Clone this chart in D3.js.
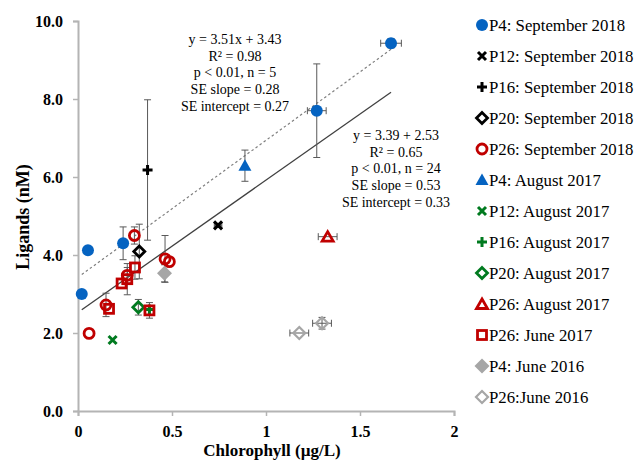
<!DOCTYPE html>
<html><head><meta charset="utf-8">
<script src="https://cdn.jsdelivr.net/npm/d3@7"></script>
<style>body{margin:0;background:#fff}svg{display:block}text{font-family:"Liberation Serif","Times New Roman",serif}</style>
</head><body><svg id="c" width="635" height="463"></svg>
<script>
// ---- data ----
const seriesNames = ["P4: September 2018","P12: September 2018","P16: September 2018","P20: September 2018","P26: September 2018","P4: August 2017","P12: August 2017","P16: August 2017","P20: August 2017","P26: August 2017","P26: June 2017","P4: June 2016","P26:June 2016"];
const seriesColors = ["#0563C1","#000000","#000000","#000000","#C00000","#0563C1","#007A1F","#007A1F","#007A1F","#C00000","#C00000","#A6A6A6","#A6A6A6"];
const seriesShapes = ["circle","x","plus","diamondOpen","circleOpen","triangle","x","plus","diamondOpen","triangleOpen","squareOpen","diamond","diamondOpenSmall"];
// each point: [x, y, xErr, yErr]
const p4Sep2018  = [[0.02,3.00,0,0],[0.053,4.12,0,0],[0.24,4.30,0,0.42],[1.27,7.70,0.05,1.2],[1.665,9.43,0.055,0.12]];
const p12Sep2018 = [[0.745,4.76,0.02,0.05]];
const p16Sep2018 = [[0.37,6.18,0,1.8]];
const p20Sep2018 = [[0.326,4.09,0,0.7]];
const p26Sep2018 = [[0.059,1.99,0,0],[0.30,4.50,0,0.22],[0.149,2.72,0,0.3],[0.262,3.48,0,0.2],[0.463,3.90,0,0.6],[0.486,3.83,0,0]];
const p4Aug2017  = [[0.888,6.29,0,0.4]];
const p12Aug2017 = [[0.184,1.82,0,0]];
const p16Aug2017 = [[0.38,2.60,0,0]];
const p20Aug2017 = [[0.321,2.66,0,0.2]];
const p26Aug2017 = [[1.328,4.47,0.05,0]];
const p26Jun2017 = [[0.165,2.62,0,0],[0.232,3.27,0,0],[0.262,3.38,0,0.4],[0.303,3.68,0,0.3],[0.38,2.58,0,0.2]];
const p4Jun2016  = [[0.46,3.53,0,0.22]];
const p26Jun2016 = [[1.177,2.00,0.05,0],[1.298,2.25,0.05,0.15]];
const allSeries = [p4Sep2018,p12Sep2018,p16Sep2018,p20Sep2018,p26Sep2018,p4Aug2017,p12Aug2017,p16Aug2017,p20Aug2017,p26Aug2017,p26Jun2017,p4Jun2016,p26Jun2016];
const xTicks = [0,0.5,1,1.5,2];
const xTickLabels = ["0","0.5","1","1.5","2"];
const yTicks = [0,2,4,6,8,10];
const fitSlopes = [3.51,3.39];
const fitIntercepts = [3.43,2.53];
const fitRange = [0.02,1.665];
const fitText1 = ["y = 3.51x + 3.43","R² = 0.98","p < 0.01, n = 5","SE slope = 0.28","SE intercept = 0.27"];
const fitText2 = ["y = 3.39 + 2.53","R² = 0.65","p < 0.01, n = 24","SE slope = 0.53","SE intercept = 0.33"];

// ---- drawing ----
const svg = d3.select("#c");
const x = d3.scaleLinear().domain([0,2]).range([78,454]);
const y = d3.scaleLinear().domain([0,10]).range([411,21]);
const axisCol = "#B4B4B4";

const yAxis = svg.append("g").attr("transform","translate(78,0)")
  .call(d3.axisLeft(y).tickValues(yTicks).tickFormat(d3.format(".1f")).tickSize(5).tickPadding(10));
const xAxis = svg.append("g").attr("transform","translate(0,411)")
  .call(d3.axisBottom(x).tickValues(xTicks).tickFormat((d,i)=>xTickLabels[i]).tickSize(5).tickPadding(10));
[yAxis,xAxis].forEach(a=>{
  a.select(".domain").attr("stroke",axisCol).attr("stroke-width",2);
  a.selectAll(".tick line").attr("stroke",axisCol).attr("stroke-width",1.5);
  a.selectAll(".tick text").attr("font-family","Liberation Serif").attr("font-weight","bold").attr("font-size",16).attr("fill","#000");
});

svg.append("text").attr("x",272).attr("y",456).attr("text-anchor","middle").attr("font-weight","bold").attr("font-size",17).text("Chlorophyll (µg/L)");
svg.append("text").attr("transform","translate(29,217) rotate(-90)").attr("text-anchor","middle").attr("font-weight","bold").attr("font-size",18).text("Ligands (nM)");

// regression lines
const fitStyles = [{c:"#7F7F7F",w:1.2,d:"2.5,2.5"},{c:"#404040",w:1.3,d:null}];
fitSlopes.forEach((s,i)=>{
  const l = svg.append("line")
    .attr("x1",x(fitRange[0])).attr("y1",y(fitIntercepts[i]+s*fitRange[0]))
    .attr("x2",x(fitRange[1])).attr("y2",y(fitIntercepts[i]+s*fitRange[1]))
    .attr("stroke",fitStyles[i].c).attr("stroke-width",fitStyles[i].w);
  if(fitStyles[i].d) l.attr("stroke-dasharray",fitStyles[i].d);
});

// error bars
const eb = svg.append("g").attr("stroke","#595959").attr("stroke-width",1).attr("fill","none");
allSeries.forEach(ser=>ser.forEach(p=>{
  const [vx,vy,ex,ey]=p;
  if(ey>0){
    eb.append("line").attr("x1",x(vx)).attr("x2",x(vx)).attr("y1",y(vy-ey)).attr("y2",y(vy+ey));
    [vy-ey,vy+ey].forEach(v=>eb.append("line").attr("x1",x(vx)-3.5).attr("x2",x(vx)+3.5).attr("y1",y(v)).attr("y2",y(v)));
  }
  if(ex>0){
    eb.append("line").attr("y1",y(vy)).attr("y2",y(vy)).attr("x1",x(vx-ex)).attr("x2",x(vx+ex));
    [vx-ex,vx+ex].forEach(v=>eb.append("line").attr("y1",y(vy)-3.5).attr("y2",y(vy)+3.5).attr("x1",x(v)).attr("x2",x(v)));
  }
}));

function marker(g,shape,col,cx,cy){
  const m = g.append("g").attr("transform",`translate(${cx},${cy})`);
  switch(shape){
    case "circle": m.append("circle").attr("r",6).attr("fill",col); break;
    case "circleOpen": m.append("circle").attr("r",5).attr("fill","none").attr("stroke",col).attr("stroke-width",2.8); break;
    case "x": m.append("path").attr("d","M-4,-4L4,4M-4,4L4,-4").attr("stroke",col).attr("stroke-width",3).attr("fill","none"); break;
    case "plus": m.append("path").attr("d","M-5,0L5,0M0,-5L0,5").attr("stroke",col).attr("stroke-width",3).attr("fill","none"); break;
    case "diamondOpen": m.append("path").attr("d","M0,-5.5L5.5,0L0,5.5L-5.5,0Z").attr("stroke",col).attr("stroke-width",2.8).attr("fill","none"); break;
    case "diamondOpenSmall": m.append("path").attr("d","M0,-6L6,0L0,6L-6,0Z").attr("stroke",col).attr("stroke-width",2.2).attr("fill","none"); break;
    case "diamond": m.append("path").attr("d","M0,-7.5L7.5,0L0,7.5L-7.5,0Z").attr("fill",col); break;
    case "triangle": m.append("path").attr("d","M0,-6.5L6.5,5L-6.5,5Z").attr("fill",col); break;
    case "triangleOpen": m.append("path").attr("d","M0,-5L5.5,4.5L-5.5,4.5Z").attr("fill","none").attr("stroke",col).attr("stroke-width",2.8).attr("stroke-linejoin","miter"); break;
    case "squareOpen": m.append("rect").attr("x",-4.5).attr("y",-4.5).attr("width",9).attr("height",9).attr("fill","none").attr("stroke",col).attr("stroke-width",2.8); break;
  }
}

const mk = svg.append("g");
allSeries.forEach((ser,i)=>ser.forEach(p=>marker(mk,seriesShapes[i],seriesColors[i],x(p[0]),y(p[1]))));

// fit annotations
const ann = svg.append("g").attr("font-size",14).attr("fill","#000").attr("text-anchor","middle");
fitText1.forEach((t,i)=>ann.append("text").attr("x",235).attr("y",44+i*16.7).text(t));
fitText2.forEach((t,i)=>ann.append("text").attr("x",396).attr("y",140+i*16.7).text(t));

// legend
const lg = svg.append("g");
seriesNames.forEach((n,i)=>{
  const ly = 25 + i*31;
  marker(lg,seriesShapes[i],seriesColors[i],482,ly);
  lg.append("text").attr("x",489).attr("y",ly+5.5).attr("font-size",16.8).attr("fill","#000").text(n);
});
</script></body></html>
